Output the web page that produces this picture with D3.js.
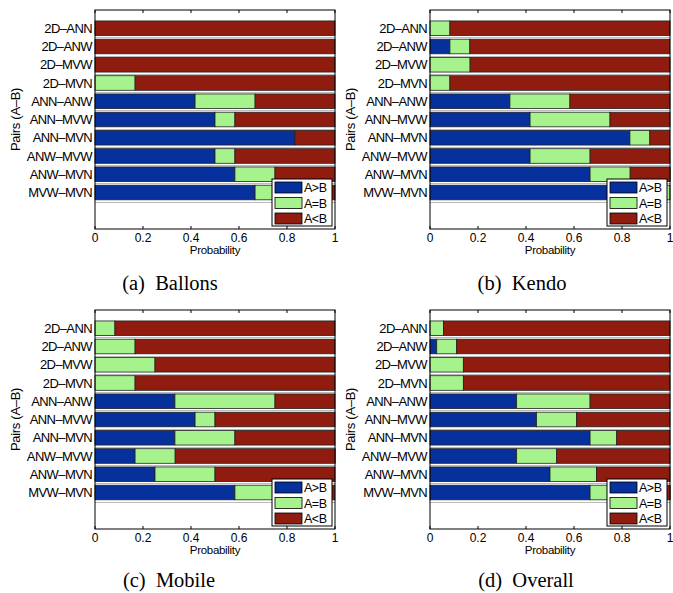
<!DOCTYPE html>
<html>
<head>
<meta charset="utf-8">
<script src="https://cdn.jsdelivr.net/npm/d3@7"></script>
<style>
  body { margin: 0; background: #fff; }
  svg { display: block; }
</style>
</head>
<body>
<svg id="fig" width="673" height="593"></svg>
<script>
// pair categories, top to bottom
var pairs = ["2D–ANN", "2D–ANW", "2D–MVW", "2D–MVN", "ANN–ANW",
  "ANN–MVW", "ANN–MVN", "ANW–MVW", "ANW–MVN", "MVW–MVN"];
var legendLabels = ["A>B", "A=B", "A<B"];
var xTicks = [0, 0.2, 0.4, 0.6, 0.8, 1];

// probabilities per dataset: A>B, A=B, A<B
var ballonsGT = [0, 0, 0, 0, 0.417, 0.5, 0.833, 0.5, 0.583, 0.667];
var ballonsEQ = [0, 0, 0, 0.167, 0.25, 0.083, 0, 0.083, 0.167, 0.25];
var ballonsLT = [1, 1, 1, 0.833, 0.333, 0.417, 0.167, 0.417, 0.25, 0.083];

var kendoGT = [0, 0.083, 0, 0, 0.333, 0.417, 0.833, 0.417, 0.667, 0.75];
var kendoEQ = [0.083, 0.083, 0.167, 0.083, 0.25, 0.333, 0.083, 0.25, 0.167, 0.25];
var kendoLT = [0.917, 0.833, 0.833, 0.917, 0.417, 0.25, 0.083, 0.333, 0.167, 0];

var mobileGT = [0, 0, 0, 0, 0.333, 0.417, 0.333, 0.167, 0.25, 0.583];
var mobileEQ = [0.083, 0.167, 0.25, 0.167, 0.417, 0.083, 0.25, 0.167, 0.25, 0.333];
var mobileLT = [0.917, 0.833, 0.75, 0.833, 0.25, 0.5, 0.417, 0.667, 0.5, 0.083];

var overallGT = [0, 0.028, 0, 0, 0.361, 0.444, 0.667, 0.361, 0.5, 0.667];
var overallEQ = [0.056, 0.083, 0.139, 0.139, 0.306, 0.167, 0.111, 0.167, 0.194, 0.278];
var overallLT = [0.944, 0.889, 0.861, 0.861, 0.333, 0.389, 0.222, 0.472, 0.306, 0.056];

var colors = ["#06309c", "#a6f28c", "#901c10"];

var svg = d3.select("#fig");
var W = 240, H = 219;
var sans = "'Liberation Sans', Arial, sans-serif";

function drawPanel(left, top, gt, eq, lt, caption, capX, capY) {
  var g = svg.append("g").attr("transform", "translate(" + left + "," + top + ")");

  var x = d3.scaleLinear().domain([0, 1]).range([0, W]);
  var y = d3.scaleLinear().domain([0, 12]).range([0, H]);
  var bh = y(0.8) - y(0);

  // light separators between bars
  g.selectAll(".sep")
    .data(pairs)
    .enter()
    .append("line")
    .attr("x1", 0)
    .attr("x2", W)
    .attr("y1", (d, i) => Math.round(y(i + 1.5)) + 0.5)
    .attr("y2", (d, i) => Math.round(y(i + 1.5)) + 0.5)
    .attr("stroke", "#bbb")
    .attr("stroke-width", 1.2);

  // stacked segments
  pairs.forEach(function(p, i) {
    var acc = 0;
    [gt[i], eq[i], lt[i]].forEach(function(v, k) {
      if (v > 0) {
        g.append("rect")
          .attr("x", x(acc))
          .attr("y", y(i + 1) - bh / 2)
          .attr("width", x(acc + v) - x(acc))
          .attr("height", bh)
          .attr("fill", colors[k])
          .attr("stroke", "#222")
          .attr("stroke-width", 0.8);
      }
      acc += v;
    });
  });

  // axes frame
  g.append("rect")
    .attr("width", W).attr("height", H)
    .attr("fill", "none").attr("stroke", "#000").attr("stroke-width", 1);

  // inward ticks top and bottom
  xTicks.forEach(function(t) {
    g.append("line").attr("x1", x(t)).attr("x2", x(t)).attr("y1", H).attr("y2", H - 3).attr("stroke", "#000");
    g.append("line").attr("x1", x(t)).attr("x2", x(t)).attr("y1", 0).attr("y2", 3).attr("stroke", "#000");
  });

  g.selectAll(".tl")
    .data(xTicks)
    .enter()
    .append("text")
    .attr("x", d => x(d))
    .attr("y", H + 13)
    .attr("text-anchor", "middle")
    .style("font", "12px " + sans)
    .text(d => d3.format("~g")(d));

  g.append("text")
    .attr("x", W / 2)
    .attr("y", H + 25)
    .attr("text-anchor", "middle")
    .style("font", "11.5px " + sans)
    .style("letter-spacing", "-0.3px")
    .text("Probability");

  // category labels
  g.selectAll(".cl")
    .data(pairs)
    .enter()
    .append("text")
    .attr("x", -3)
    .attr("y", (d, i) => y(i + 1) + 4.5)
    .attr("text-anchor", "end")
    .style("font", "13px " + sans)
    .style("letter-spacing", "-0.6px")
    .text(d => d);

  g.append("text")
    .attr("transform", "translate(-75," + (H / 2) + ") rotate(-90)")
    .attr("text-anchor", "middle")
    .style("font", "13px " + sans)
    .style("letter-spacing", "-0.3px")
    .text("Pairs (A–B)");

  // legend
  var lg = g.append("g").attr("transform", "translate(" + (W - 63) + "," + (H - 50) + ")");
  lg.append("rect").attr("width", 60).attr("height", 47)
    .attr("fill", "#fff").attr("stroke", "#000").attr("stroke-width", 1);
  legendLabels.forEach(function(l, k) {
    lg.append("rect")
      .attr("x", 3).attr("y", 3 + k * 15.5)
      .attr("width", 27).attr("height", 11)
      .attr("fill", colors[k]).attr("stroke", "#000").attr("stroke-width", 0.8);
    lg.append("text")
      .attr("x", 32).attr("y", 13 + k * 15.5)
      .style("font", "12.5px " + sans)
      .style("letter-spacing", "-0.5px")
      .text(l);
  });

  // caption
  svg.append("text")
    .attr("x", capX)
    .attr("y", capY)
    .attr("text-anchor", "middle")
    .style("font", "20.5px 'Liberation Serif', 'Times New Roman', serif")
    .attr("xml:space", "preserve")
    .text(caption);
}

drawPanel(95, 10, ballonsGT, ballonsEQ, ballonsLT, "(a)  Ballons", 170, 290);
drawPanel(430, 10, kendoGT, kendoEQ, kendoLT, "(b)  Kendo", 522, 290);
drawPanel(95, 310, mobileGT, mobileEQ, mobileLT, "(c)  Mobile", 169, 587);
drawPanel(430, 310, overallGT, overallEQ, overallLT, "(d)  Overall", 526, 587);
</script>
</body>
</html>
